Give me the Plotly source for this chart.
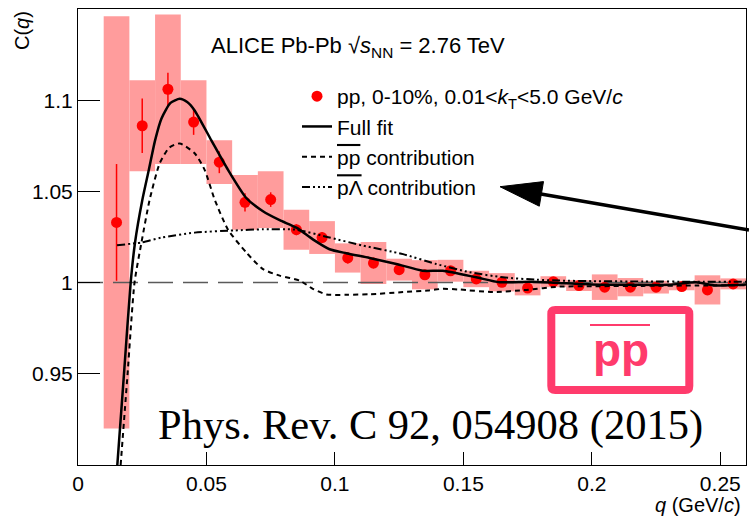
import plotly.graph_objects as go

# ---------------- data ----------------
q_pts = [0.015, 0.025, 0.035, 0.045, 0.055, 0.065, 0.075, 0.085, 0.095, 0.105,
         0.115, 0.125, 0.135, 0.145, 0.155, 0.165, 0.175, 0.185, 0.195, 0.205,
         0.215, 0.225, 0.235, 0.245, 0.255]
c_pts = [1.033, 1.086, 1.106, 1.088, 1.066, 1.044, 1.0455, 1.029, 1.0247, 1.0135,
         1.0107, 1.0071, 1.0043, 1.0065, 1.002, 1.0002, 0.997, 1.0005, 0.9984, 0.9975,
         0.9975, 0.9975, 0.9978, 0.996, 0.9993]
stat_err = [0.032, 0.015, 0.009, 0.007, 0.006, 0.005, 0.004, 0.003, 0.003, 0.003,
            0.003, 0.002, 0.002, 0.002, 0.002, 0.002, 0.002, 0.002, 0.002, 0.002,
            0.002, 0.002, 0.002, 0.002, 0.002]
sys_err = [0.113, 0.025, 0.041, 0.023, 0.012, 0.015, 0.0155, 0.011, 0.009, 0.008,
           0.0115, 0.006, 0.008, 0.006, 0.0045, 0.005, 0.004, 0.003, 0.003, 0.007,
           0.005, 0.0035, 0.002, 0.008, 0.003]
bin_width = 0.01

fit_q = [0.0153, 0.0179, 0.0205, 0.0222, 0.025, 0.0276, 0.030, 0.0325, 0.036, 0.0396,
         0.0425, 0.0454, 0.0519, 0.0584, 0.0655, 0.072, 0.0785, 0.085, 0.0914, 0.0979,
         0.1044, 0.1135, 0.1239, 0.1342, 0.142, 0.155, 0.164, 0.1758, 0.187, 0.2,
         0.215, 0.23, 0.2406, 0.2484, 0.26]
fit_c = [0.90, 0.95, 1.0, 1.022, 1.045, 1.062, 1.078, 1.090, 1.0985, 1.1008,
         1.0990, 1.0944, 1.078, 1.0618, 1.0464, 1.0391, 1.0342, 1.0301, 1.0237, 1.0183,
         1.0161, 1.0135, 1.0102, 1.0065, 1.0065, 1.0029, 1.0002, 1.0005, 0.9998, 0.9990,
         0.9988, 0.9988, 1.0002, 0.9984, 0.9990]

pp_q = [0.0166, 0.0193, 0.022, 0.0247, 0.0279, 0.0318, 0.0355, 0.0396, 0.0454, 0.0493,
        0.0532, 0.0584, 0.0655, 0.072, 0.0785, 0.0863, 0.0914, 0.0967, 0.1044, 0.1135,
        0.1265, 0.1362, 0.142, 0.1485, 0.1615, 0.1745, 0.1874, 0.2, 0.22, 0.24, 0.26]
pp_c = [0.90, 0.95, 1.0, 1.022, 1.0455, 1.0654, 1.074, 1.0763, 1.0709, 1.0618,
        1.0455, 1.029, 1.0165, 1.0074, 1.0038, 1.0011, 0.9966, 0.9935, 0.9933, 0.9936,
        0.9948, 0.9957, 0.9966, 0.9962, 0.9948, 0.996, 0.9978, 0.998, 0.9982, 0.9984, 0.9986]

pl_q = [0.0152, 0.0247, 0.0325, 0.0454, 0.061, 0.072, 0.085, 0.0979, 0.1109, 0.1265,
        0.1394, 0.1524, 0.1654, 0.1784, 0.1874, 0.2, 0.22, 0.24, 0.26]
pl_c = [1.0205, 1.022, 1.0247, 1.0274, 1.0286, 1.0292, 1.0290, 1.0247, 1.0203, 1.0156,
        1.0102, 1.0057, 1.0029, 1.0016, 1.0011, 1.0008, 1.0006, 1.0005, 1.0004]

x_range = [0, 0.26]
y_range = [0.9, 1.15]
ref_level = 1.0
x_ticks = [0, 0.05, 0.1, 0.15, 0.2, 0.25]
x_tick_labels = ["0", "0.05", "0.1", "0.15", "0.2", "0.25"]
y_ticks = [0.95, 1.0, 1.05, 1.1]
y_tick_labels = ["0.95", "1", "1.05", "1.1"]

# ---------------- layout helpers ----------------
W, H = 749, 520
ML, MR, MT, MB = 78, 3, 9, 55
PW, PH = W - ML - MR, H - MT - MB


def X(px):
    return (px - ML) / PW


def Y(py):
    return (H - MB - py) / PH


SANS = "Liberation Sans, Arial, Helvetica, sans-serif"
SERIF = "Liberation Serif, Times New Roman, serif"
PINK = "#ff3b6c"
OVL = 'style="text-decoration:overline"'

fig = go.Figure()

# systematic boxes
fig.add_trace(go.Bar(
    x=q_pts,
    y=[2 * s for s in sys_err],
    base=[c - s for c, s in zip(c_pts, sys_err)],
    width=bin_width,
    marker=dict(color="#ff9c9c", line=dict(width=0)),
    showlegend=False, hoverinfo="skip",
))

# reference line at 1
fig.add_trace(go.Scatter(
    x=x_range, y=[ref_level, ref_level], mode="lines",
    line=dict(color="#5a5a5a", width=1.5, dash="25px,10px"),
    showlegend=False, hoverinfo="skip",
))

# data points
fig.add_trace(go.Scatter(
    x=q_pts, y=c_pts, mode="markers",
    marker=dict(color="#ff0000", size=11, symbol="circle"),
    error_y=dict(type="data", array=stat_err, color="#ff0000", thickness=1.5, width=0),
    name="pp, 0-10%, 0.01&lt;<i>k</i><sub>T</sub>&lt;5.0 GeV/<i>c</i>",
    legendgroup="a",
))

fig.add_trace(go.Scatter(
    x=fit_q, y=fit_c, mode="lines", line=dict(color="black", width=2.5, shape="spline", smoothing=0.6),
    name="Full fit", legendgroup="b",
))
fig.add_trace(go.Scatter(
    x=pp_q, y=pp_c, mode="lines",
    line=dict(color="black", width=2, dash="5px,4px", shape="spline", smoothing=0.6),
    name=f'<span {OVL}>pp</span> contribution', legendgroup="c",
))
fig.add_trace(go.Scatter(
    x=pl_q, y=pl_c, mode="lines",
    line=dict(color="black", width=2, dash="8px,3px,2px,3px,2px,3px,2px,3px", shape="spline", smoothing=0.6),
    name=f'<span {OVL}>pΛ</span> contribution', legendgroup="d",
))

annotations = [
    dict(text="ALICE Pb-Pb √<i>s</i><sub>NN</sub> = 2.76 TeV", x=X(209), y=Y(47),
         xanchor="left", yanchor="middle", font=dict(size=22, color="black", family=SANS)),
    dict(text="C(<i>q</i>)", x=X(22), y=Y(31), textangle=-90,
         xanchor="center", yanchor="middle", font=dict(size=20, color="black", family=SANS)),
    dict(text="<i>q</i> (GeV/<i>c</i>)", x=X(743), y=Y(505),
         xanchor="right", yanchor="middle", font=dict(size=20, color="black", family=SANS)),
    dict(text="Phys. Rev. C 92, 054908 (2015)", x=X(430), y=Y(425),
         xanchor="center", yanchor="middle", font=dict(size=42.5, color="black", family=SERIF)),
    dict(text="<b>pp</b>", x=X(620.5), y=Y(350),
         xanchor="center", yanchor="middle", font=dict(size=46, color=PINK, family=SANS)),
]
for a in annotations:
    a.update(xref="paper", yref="paper", showarrow=False)


def rounded_rect(x0, y0, x1, y1, r):
    return (f"M{X(x0 + r)},{Y(y0)} L{X(x1 - r)},{Y(y0)} Q{X(x1)},{Y(y0)} {X(x1)},{Y(y0 + r)} "
            f"L{X(x1)},{Y(y1 - r)} Q{X(x1)},{Y(y1)} {X(x1 - r)},{Y(y1)} "
            f"L{X(x0 + r)},{Y(y1)} Q{X(x0)},{Y(y1)} {X(x0)},{Y(y1 - r)} "
            f"L{X(x0)},{Y(y0 + r)} Q{X(x0)},{Y(y0)} {X(x0 + r)},{Y(y0)} Z")


shapes = [
    # pink label box
    dict(type="path", path=rounded_rect(551.3, 310, 689.3, 390, 4),
         line=dict(color=PINK, width=8)),
    dict(type="line", x0=X(590), x1=X(650), y0=Y(325), y1=Y(325), line=dict(color=PINK, width=2)),
    # arrow shaft and head
    dict(type="line", x0=X(749), y0=Y(230), x1=X(538), y1=Y(193.5), line=dict(color="black", width=3.5)),
    dict(type="path", path=f"M{X(500)},{Y(186.7)} L{X(543.5)},{Y(181.6)} L{X(539.3)},{Y(206.2)} Z",
         fillcolor="black", line=dict(color="black", width=1)),
]
for s in shapes:
    s.update(xref="paper", yref="paper", layer="above")

axis_common = dict(
    showline=True, linecolor="black", linewidth=1, mirror=True,
    ticks="inside", tickcolor="black", tickwidth=1,
    showgrid=False, zeroline=False,
    tickfont=dict(size=21, color="black", family=SANS),
)

fig.update_layout(
    width=W, height=H,
    margin=dict(l=ML, r=MR, t=MT, b=MB, pad=0),
    paper_bgcolor="white", plot_bgcolor="white",
    barmode="overlay",
    xaxis=dict(range=x_range, tickvals=x_ticks, ticktext=x_tick_labels, ticklen=13, **axis_common),
    yaxis=dict(range=y_range, tickvals=y_ticks, ticktext=y_tick_labels, ticklen=22, **axis_common),
    showlegend=True,
    legend=dict(x=X(297), y=Y(76), xanchor="left", yanchor="top",
                bgcolor="rgba(0,0,0,0)", borderwidth=0, tracegroupgap=0,
                font=dict(size=21, color="black", family=SANS)),
    annotations=annotations,
    shapes=shapes,
)

fig.write_html(
    "out.html",
    config={"displayModeBar": False},
    post_script="document.body.style.margin='0';document.body.style.overflow='hidden';",
)
